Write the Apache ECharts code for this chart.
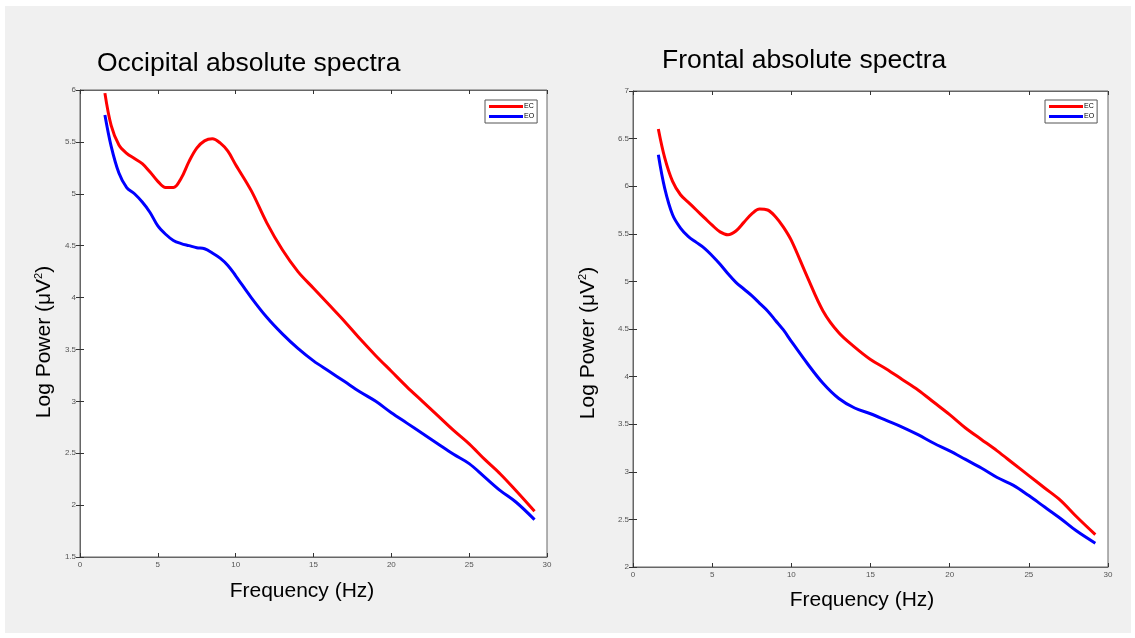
<!DOCTYPE html>
<html>
<head>
<meta charset="utf-8">
<script src="https://cdn.jsdelivr.net/npm/echarts@6/dist/echarts.min.js"></script>
<style>
html,body{margin:0;padding:0;background:#fff;}
#c{width:1135px;height:638px;}
</style>
</head>
<body>
<div id="c"></div>
<script>
// Frequencies (Hz)
var freq = [1.6, 2, 2.5, 3, 3.5, 4, 4.5, 5, 5.5, 6, 6.5, 7, 7.5, 8, 8.5, 9, 9.5, 10,
            11, 12, 13, 14, 15, 16, 17, 18, 19, 20, 21, 22, 23, 24, 25, 26, 27, 28, 29.2];
// Occipital absolute spectra
var occEC = [5.97, 5.66, 5.47, 5.39, 5.34, 5.29, 5.21, 5.12, 5.06, 5.06, 5.15, 5.31, 5.44, 5.51, 5.53, 5.49, 5.41, 5.28,
             5.03, 4.72, 4.46, 4.25, 4.09, 3.93, 3.77, 3.60, 3.44, 3.29, 3.14, 3.00, 2.86, 2.72, 2.59, 2.44, 2.30, 2.14, 1.94];
var occEO = [5.76, 5.46, 5.20, 5.06, 5.00, 4.92, 4.82, 4.69, 4.61, 4.55, 4.52, 4.50, 4.48, 4.47, 4.43, 4.38, 4.31, 4.21,
             4.00, 3.81, 3.65, 3.51, 3.39, 3.29, 3.19, 3.09, 3.00, 2.89, 2.79, 2.69, 2.59, 2.49, 2.40, 2.27, 2.14, 2.03, 1.86];
// Frontal absolute spectra
var frEC = [6.60, 6.30, 6.05, 5.91, 5.83, 5.75, 5.67, 5.59, 5.52, 5.49, 5.53, 5.62, 5.71, 5.76, 5.75, 5.68, 5.57, 5.43,
            5.05, 4.69, 4.46, 4.31, 4.18, 4.08, 3.97, 3.86, 3.73, 3.60, 3.46, 3.34, 3.22, 3.09, 2.96, 2.83, 2.70, 2.53, 2.34];
var frEO = [6.33, 5.98, 5.70, 5.56, 5.47, 5.41, 5.35, 5.27, 5.18, 5.08, 4.99, 4.92, 4.85, 4.77, 4.69, 4.59, 4.49, 4.37,
            4.14, 3.93, 3.77, 3.67, 3.61, 3.54, 3.47, 3.39, 3.30, 3.22, 3.13, 3.04, 2.94, 2.86, 2.75, 2.63, 2.51, 2.38, 2.25];

var titles = ['Occipital absolute spectra', 'Frontal absolute spectra'];
var xName = 'Frequency (Hz)';
var seriesNames = ['EC', 'EO'];
var colors = ['#ff0000', '#0000ff'];

function pairs(xs, ys) { return xs.map(function (x, i) { return [x, ys[i]]; }); }

var FONT = 'Liberation Sans, Arial, Helvetica, sans-serif';
var tickLabel = { fontSize: 8, color: '#555', fontFamily: FONT, margin: 4 };
var axisLine = { show: true, lineStyle: { color: '#666', width: 1 } };
var axisTick = { show: true, inside: true, length: 4, lineStyle: { color: '#333' } };

function xAx(g) {
  return [{
    gridIndex: g, type: 'value', min: 0, max: 30, interval: 5,
    axisLine: axisLine, axisTick: axisTick, splitLine: { show: false },
    axisLabel: tickLabel
  }, {
    gridIndex: g, type: 'value', min: 0, max: 30, interval: 5, position: 'top',
    axisLine: axisLine, axisTick: axisTick, splitLine: { show: false },
    axisLabel: { show: false }
  }];
}
function yAx(g, min, max) {
  return [{
    gridIndex: g, type: 'value', min: min, max: max, interval: 0.5,
    axisLine: axisLine, axisTick: axisTick, splitLine: { show: false },
    axisLabel: tickLabel
  }, {
    gridIndex: g, type: 'value', min: min, max: max, interval: 0.5, position: 'right',
    axisLine: axisLine, axisTick: axisTick, splitLine: { show: false },
    axisLabel: { show: false }
  }];
}

function line(name, g, data, color) {
  return {
    name: name, type: 'line', xAxisIndex: g * 2, yAxisIndex: g * 2,
    data: data, smooth: 0.35, showSymbol: false, symbol: 'none',
    lineStyle: { color: color, width: 3 }, itemStyle: { color: color }
  };
}

function yLabel(x, y) {
  return {
    type: 'text', x: x, y: y, rotation: Math.PI / 2,
    style: {
      text: 'Log Power (μV{s|2})', fontSize: 21, fontFamily: FONT, fill: '#000',
      align: 'center', verticalAlign: 'middle',
      rich: { s: { fontSize: 11, fontFamily: FONT, fill: '#000', verticalAlign: 'top', padding: [0, 0, 9, 0] } }
    }
  };
}
function xLabel(x, y) {
  return {
    type: 'text', x: x, y: y,
    style: { text: xName, fontSize: 21, fontFamily: FONT, fill: '#000', align: 'center', verticalAlign: 'middle' }
  };
}

var legendCommon = {
  orient: 'vertical', icon: 'rect', itemWidth: 34, itemHeight: 3, itemGap: 3,
  padding: [3, 3, 3, 4], borderColor: '#555', borderWidth: 1, backgroundColor: '#fff',
  textStyle: { fontSize: 7, color: '#000', fontFamily: FONT, padding: [0, 0, 0, -4] },
  data: seriesNames, selectedMode: false
};

var option = {
  backgroundColor: '#ffffff',
  animation: false,
  graphic: [
    { type: 'rect', z: -10, shape: { x: 5, y: 6, width: 1126, height: 627 }, style: { fill: '#f0f0f0' } },
    { type: 'text', left: 97, top: 50, style: { text: titles[0], fontSize: 26.5, fontFamily: FONT, fill: '#000' } },
    { type: 'text', left: 662, top: 47, style: { text: titles[1], fontSize: 26.5, fontFamily: FONT, fill: '#000' } },
    xLabel(302, 591), xLabel(862, 600),
    yLabel(44, 342), yLabel(588, 343)
  ],
  grid: [
    { left: 80, top: 90, width: 467, height: 467, show: true, backgroundColor: '#fff', borderColor: '#666', borderWidth: 1 },
    { left: 633, top: 91, width: 475, height: 476, show: true, backgroundColor: '#fff', borderColor: '#666', borderWidth: 1 }
  ],
  xAxis: xAx(0).concat(xAx(1)),
  yAxis: yAx(0, 1.5, 6).concat(yAx(1, 2, 7)),
  legend: [
    Object.assign({}, legendCommon, { left: 485, top: 100 }),
    Object.assign({}, legendCommon, { left: 1045, top: 100 })
  ],
  series: [
    line(seriesNames[0], 0, pairs(freq, occEC), colors[0]),
    line(seriesNames[1], 0, pairs(freq, occEO), colors[1]),
    line(seriesNames[0], 1, pairs(freq, frEC), colors[0]),
    line(seriesNames[1], 1, pairs(freq, frEO), colors[1])
  ]
};

var chart = echarts.init(document.getElementById('c'), null, { renderer: 'canvas' });
chart.setOption(option);
</script>
</body>
</html>
